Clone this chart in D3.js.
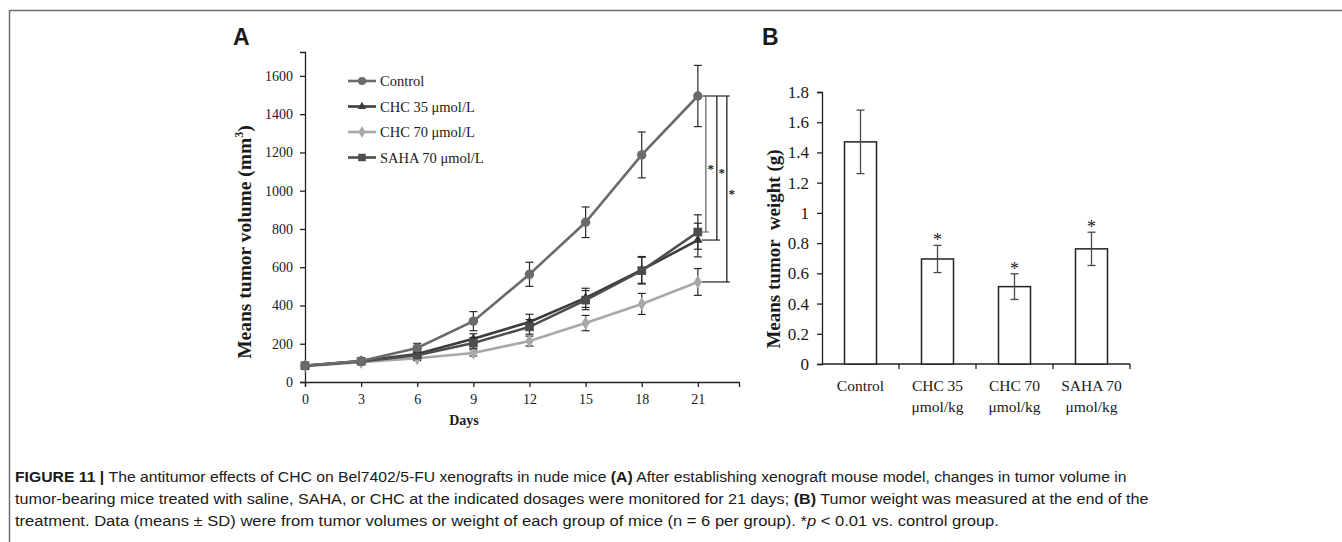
<!DOCTYPE html>
<html>
<head>
<meta charset="utf-8">
<script src="https://cdn.jsdelivr.net/npm/d3@7"></script>
<style>
  body { margin: 0; background: #fff; }
  svg text { fill: #1a1a1a; }
</style>
</head>
<body>
<div id="chart"></div>
<script>
// ---- panel A data (tumor volume, mm3) ----
var days = [0, 3, 6, 9, 12, 15, 18, 21];
var seriesNames = ["Control", "CHC 35 \u03bcmol/L", "CHC 70 \u03bcmol/L", "SAHA 70 \u03bcmol/L"];
var controlVol = [86, 110, 178, 318, 563, 835, 1187, 1495];
var controlSD = [8, 10, 24, 50, 63, 80, 120, 160];
var chc35Vol = [85, 110, 146, 226, 314, 440, 586, 742];
var chc35SD = [8, 10, 18, 26, 40, 50, 70, 88];
var chc70Vol = [83, 104, 124, 152, 214, 308, 408, 523];
var chc70SD = [8, 8, 12, 16, 26, 40, 55, 70];
var sahaVol = [85, 108, 140, 204, 288, 428, 582, 784];
var sahaSD = [8, 9, 16, 28, 38, 50, 70, 90];
var volTicks = [0, 200, 400, 600, 800, 1000, 1200, 1400, 1600];

// ---- panel B data (tumor weight, g) ----
var groups = ["Control", "CHC 35", "CHC 70", "SAHA 70"];
var groupLines = [["Control"], ["CHC 35", "\u03bcmol/kg"], ["CHC 70", "\u03bcmol/kg"], ["SAHA 70", "\u03bcmol/kg"]];
var weight = [1.47, 0.695, 0.512, 0.762];
var weightSD = [0.21, 0.09, 0.085, 0.11];
var weightStar = [false, true, true, true];
var weightTicks = [0, 0.2, 0.4, 0.6, 0.8, 1, 1.2, 1.4, 1.6, 1.8];

var W = 1342, H = 542;
var serif = "'Liberation Serif', 'Times New Roman', serif";

var svg = d3.select("#chart").append("svg")
    .attr("width", W).attr("height", H);

// figure frame (top + left rule)
svg.append("path")
    .attr("d", "M9.5," + H + "V10.5H" + W)
    .attr("fill", "none").attr("stroke", "#6e6e6e").attr("stroke-width", 1.5);

function styleAxis(size) {
    return function(g) {
        g.select(".domain").attr("stroke", "#222").attr("stroke-width", 1.3);
        g.selectAll(".tick line").attr("stroke", "#222").attr("stroke-width", 1.3);
        g.selectAll("text").attr("font-family", serif).attr("font-size", size).attr("fill", "#1a1a1a");
    };
}

// ================= Panel A =================
var xA = d3.scaleLinear().domain([0, 23.2]).range([305, 739]);
var yA = d3.scaleLinear().domain([0, 1725]).range([382, 52]);

var gA = svg.append("g");

gA.append("g").attr("transform", "translate(0," + yA(0) + ")")
    .call(d3.axisBottom(xA).tickValues(days).tickSize(5).tickPadding(7).tickFormat(d3.format("d")))
    .call(styleAxis(14));
gA.append("g").attr("transform", "translate(" + xA(0) + ",0)")
    .call(d3.axisLeft(yA).tickValues(volTicks).tickSize(5).tickPadding(7).tickFormat(d3.format("d")))
    .call(styleAxis(14));

gA.append("text").attr("x", 464).attr("y", 425).attr("text-anchor", "middle")
    .attr("font-family", serif).attr("font-weight", "bold").attr("font-size", 14).text("Days");

var ylabA = gA.append("text")
    .attr("transform", "translate(251,242) rotate(-90)")
    .attr("text-anchor", "middle")
    .attr("font-family", serif).attr("font-weight", "bold").attr("font-size", 19.5);
ylabA.append("tspan").text("Means tumor volume (mm");
ylabA.append("tspan").attr("font-size", 12).attr("dy", -8).text("3");
ylabA.append("tspan").attr("dy", 8).text(")");

gA.append("text").attr("x", 233).attr("y", 45)
    .attr("font-family", "'Liberation Sans', Arial, sans-serif").attr("font-weight", "bold")
    .attr("font-size", 23).text("A");

var series = [
    { name: seriesNames[0], v: controlVol, sd: controlSD, color: "#6b6b6b", sym: d3.symbolCircle, size: 70 },
    { name: seriesNames[1], v: chc35Vol, sd: chc35SD, color: "#3c3c3c", sym: d3.symbolTriangle, size: 40 },
    { name: seriesNames[2], v: chc70Vol, sd: chc70SD, color: "#a8a8a8", sym: d3.symbolDiamond, size: 55 },
    { name: seriesNames[3], v: sahaVol, sd: sahaSD, color: "#4d4d4d", sym: d3.symbolSquare, size: 75 }
];

var line = d3.line()
    .x(function(d, i) { return xA(days[i]); })
    .y(function(d) { return yA(d); });

// draw order: light first, control last
var order = [2, 1, 3, 0];
order.forEach(function(k) {
    var s = series[k];
    var g = gA.append("g");
    g.append("path").datum(s.v).attr("d", line)
        .attr("fill", "none").attr("stroke", s.color).attr("stroke-width", 2.6);
    // error bars
    s.v.forEach(function(v, i) {
        var x = xA(days[i]);
        var eb = g.append("g").attr("stroke", "#2a2a2a").attr("stroke-width", 1.2);
        eb.append("line").attr("x1", x).attr("x2", x).attr("y1", yA(v + s.sd[i])).attr("y2", yA(v - s.sd[i]));
        eb.append("line").attr("x1", x - 4).attr("x2", x + 4).attr("y1", yA(v + s.sd[i])).attr("y2", yA(v + s.sd[i]));
        eb.append("line").attr("x1", x - 4).attr("x2", x + 4).attr("y1", yA(v - s.sd[i])).attr("y2", yA(v - s.sd[i]));
    });
    g.selectAll("path.mk").data(s.v).enter().append("path").attr("class", "mk")
        .attr("d", d3.symbol().type(s.sym).size(s.size))
        .attr("transform", function(d, i) { return "translate(" + xA(days[i]) + "," + yA(d) + ")"; })
        .attr("fill", s.color);
});

// legend
var leg = gA.append("g");
series.forEach(function(s, i) {
    var ly = 81 + i * 25.5;
    leg.append("line").attr("x1", 348).attr("x2", 376).attr("y1", ly).attr("y2", ly)
        .attr("stroke", s.color).attr("stroke-width", 2.6);
    leg.append("path").attr("d", d3.symbol().type(s.sym).size(s.size * 0.75))
        .attr("transform", "translate(362," + ly + ")").attr("fill", s.color);
    leg.append("text").attr("x", 380).attr("y", ly + 5)
        .attr("font-family", serif).attr("font-size", 14.5).text(s.name);
});

// significance brackets: control vs SAHA, CHC35, CHC70
var last = days.length - 1;
var brackets = [
    { target: sahaVol[last], off: 8, color: "#6b6b6b" },
    { target: chc35Vol[last], off: 19, color: "#222" },
    { target: chc70Vol[last], off: 29, color: "#222" }
];
var xEnd = xA(days[last]);
var yTop = yA(controlVol[last]);
gA.append("line").attr("x1", xEnd + 5).attr("x2", xEnd + 32).attr("y1", yTop).attr("y2", yTop)
    .attr("stroke", "#222").attr("stroke-width", 1.2);
brackets.forEach(function(b) {
    var bx = xEnd + b.off, yb = yA(b.target);
    gA.append("line").attr("x1", bx).attr("x2", bx).attr("y1", yTop).attr("y2", yb)
        .attr("stroke", b.color).attr("stroke-width", 1.3);
    gA.append("line").attr("x1", xEnd + 4).attr("x2", bx + 3).attr("y1", yb).attr("y2", yb)
        .attr("stroke", b.color).attr("stroke-width", 1.2);
    gA.append("text").attr("x", bx + 5).attr("y", (yTop + yb) / 2 + 9)
        .attr("text-anchor", "middle").attr("font-family", serif).attr("font-weight", "bold")
        .attr("font-size", 13).attr("fill", "#111").text("*");
});

// ================= Panel B =================
var xB = d3.scaleBand().domain(groups).range([822, 1130]).padding(0);
var yB = d3.scaleLinear().domain([0, 1.8]).range([364, 92]);
var barW = 32;

var gB = svg.append("g");

gB.append("g").attr("transform", "translate(822,0)")
    .call(d3.axisLeft(yB).tickValues(weightTicks).tickSize(5).tickPadding(8)
        .tickFormat(function(d) { return String(+d.toFixed(1)); }))
    .call(styleAxis(17));

// x axis: line plus ticks between categories
var gxB = gB.append("g");
gxB.append("line").attr("x1", 822).attr("x2", 1130).attr("y1", yB(0)).attr("y2", yB(0))
    .attr("stroke", "#222").attr("stroke-width", 1.3);
groups.forEach(function(c) {
    var tx = xB(c) + xB.bandwidth();
    gxB.append("line").attr("x1", tx).attr("x2", tx).attr("y1", yB(0)).attr("y2", yB(0) + 5)
        .attr("stroke", "#222").attr("stroke-width", 1.3);
});
groupLines.forEach(function(lines, i) {
    var cx = xB(groups[i]) + xB.bandwidth() / 2;
    var t = gxB.append("text").attr("x", cx).attr("y", 391).attr("text-anchor", "middle")
        .attr("font-family", serif).attr("font-size", 15.5);
    lines.forEach(function(l, j) {
        t.append("tspan").attr("x", cx).attr("dy", j === 0 ? 0 : 21).text(l);
    });
});

gB.selectAll("rect.bar").data(weight).enter().append("rect").attr("class", "bar")
    .attr("x", function(d, i) { return xB(groups[i]) + xB.bandwidth() / 2 - barW / 2; })
    .attr("y", function(d) { return yB(d); })
    .attr("width", barW)
    .attr("height", function(d) { return yB(0) - yB(d); })
    .attr("fill", "#fff").attr("stroke", "#222").attr("stroke-width", 1.5);

weight.forEach(function(v, i) {
    var cx = xB(groups[i]) + xB.bandwidth() / 2;
    var eb = gB.append("g").attr("stroke", "#4a4a4a").attr("stroke-width", 1.3);
    eb.append("line").attr("x1", cx).attr("x2", cx).attr("y1", yB(v + weightSD[i])).attr("y2", yB(v - weightSD[i]));
    eb.append("line").attr("x1", cx - 4).attr("x2", cx + 4).attr("y1", yB(v + weightSD[i])).attr("y2", yB(v + weightSD[i]));
    eb.append("line").attr("x1", cx - 4).attr("x2", cx + 4).attr("y1", yB(v - weightSD[i])).attr("y2", yB(v - weightSD[i]));
    if (weightStar[i]) {
        gB.append("text").attr("x", cx).attr("y", yB(v + weightSD[i]) + 1).attr("text-anchor", "middle")
            .attr("font-family", serif).attr("font-size", 18).text("*");
    }
});

gB.append("text").attr("transform", "translate(780,249) rotate(-90)").attr("text-anchor", "middle")
    .attr("font-family", serif).attr("font-weight", "bold").attr("font-size", 19)
    .attr("xml:space", "preserve").text("Means tumor  weight (g)");

gB.append("text").attr("x", 762).attr("y", 45)
    .attr("font-family", "'Liberation Sans', Arial, sans-serif").attr("font-weight", "bold")
    .attr("font-size", 23).text("B");

// ================= caption =================
var capFont = "'Liberation Sans Narrow', 'Liberation Sans', Arial, sans-serif";
var caption = [
    { y: 482, len: 1112, parts: [["FIGURE 11 | ", "bold"], ["The antitumor effects of CHC on Bel7402/5-FU xenografts in nude mice ", "normal"], ["(A)", "bold"], [" After establishing xenograft mouse model, changes in tumor volume in", "normal"]] },
    { y: 504, len: 1134, parts: [["tumor-bearing mice treated with saline, SAHA, or CHC at the indicated dosages were monitored for 21 days; ", "normal"], ["(B)", "bold"], [" Tumor weight was measured at the end of the", "normal"]] },
    { y: 526, len: 985, parts: [["treatment. Data (means \u00b1 SD) were from tumor volumes or weight of each group of mice (n = 6 per group). *", "normal"], ["p", "italic"], [" < 0.01 vs. control group.", "normal"]] }
];
caption.forEach(function(c) {
    var g = svg.append("g");
    var t = g.append("text").attr("x", 0).attr("y", 0)
        .attr("font-family", capFont).attr("font-size", 15.5)
        .attr("xml:space", "preserve");
    c.parts.forEach(function(p) {
        var ts = t.append("tspan").text(p[0]);
        if (p[1] === "bold") ts.attr("font-weight", "bold");
        if (p[1] === "italic") ts.attr("font-style", "italic");
    });
    // squeeze each line to the condensed width of the original
    var sx = c.len / t.node().getComputedTextLength();
    g.attr("transform", "translate(15," + c.y + ") scale(" + sx + ",1)");
});
</script>
</body>
</html>
